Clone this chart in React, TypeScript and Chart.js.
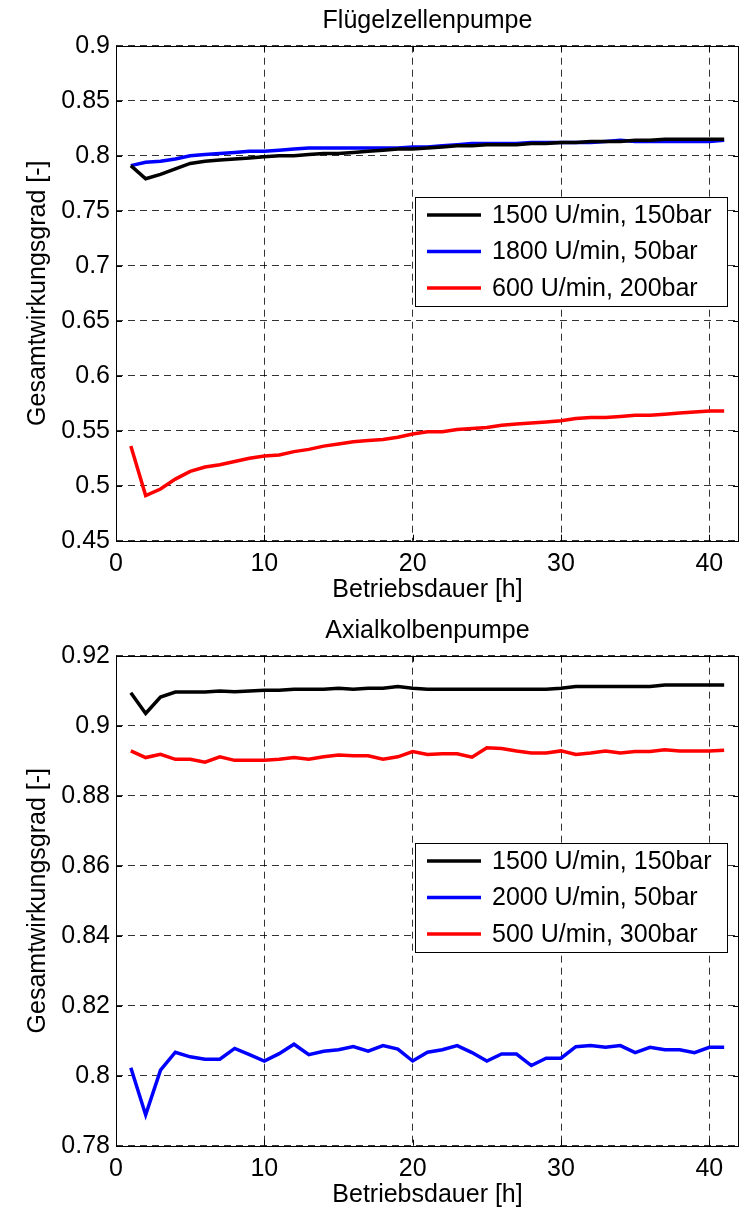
import React, { useEffect, useRef } from "react";
import { Chart, registerables } from "chart.js";

Chart.register(...registerables);

const hours = [1, 2, 3, 4, 5, 6, 7, 8, 9, 10, 11, 12, 13, 14, 15, 16, 17, 18, 19, 20, 21, 22, 23, 24, 25, 26, 27, 28, 29, 30, 31, 32, 33, 34, 35, 36, 37, 38, 39, 40, 41];

// Flügelzellenpumpe
const fzLabels = ["1500 U/min, 150bar", "1800 U/min, 50bar", "600 U/min, 200bar"];
const fz1500 = [0.791, 0.779, 0.783, 0.788, 0.793, 0.795, 0.796, 0.797, 0.798, 0.799, 0.8, 0.8, 0.801, 0.802, 0.802, 0.803, 0.804, 0.805, 0.806, 0.806, 0.807, 0.808, 0.809, 0.809, 0.81, 0.81, 0.81, 0.811, 0.811, 0.812, 0.812, 0.813, 0.813, 0.813, 0.814, 0.814, 0.815, 0.815, 0.815, 0.815, 0.815];
const fz1800 = [0.791, 0.794, 0.795, 0.797, 0.8, 0.801, 0.802, 0.803, 0.804, 0.804, 0.805, 0.806, 0.807, 0.807, 0.807, 0.807, 0.807, 0.807, 0.807, 0.808, 0.808, 0.809, 0.81, 0.811, 0.811, 0.811, 0.811, 0.812, 0.812, 0.812, 0.812, 0.812, 0.813, 0.814, 0.813, 0.813, 0.813, 0.813, 0.813, 0.813, 0.814];
const fz600 = [0.536, 0.491, 0.497, 0.506, 0.513, 0.517, 0.519, 0.522, 0.525, 0.527, 0.528, 0.531, 0.533, 0.536, 0.538, 0.54, 0.541, 0.542, 0.544, 0.547, 0.549, 0.549, 0.551, 0.552, 0.553, 0.555, 0.556, 0.557, 0.558, 0.559, 0.561, 0.562, 0.562, 0.563, 0.564, 0.564, 0.565, 0.566, 0.567, 0.568, 0.568];

// Axialkolbenpumpe
const akLabels = ["1500 U/min, 150bar", "2000 U/min, 50bar", "500 U/min, 300bar"];
const ak1500 = [0.9094, 0.9035, 0.9082, 0.9096, 0.9096, 0.9096, 0.9099, 0.9097, 0.9099, 0.9101, 0.9101, 0.9104, 0.9104, 0.9104, 0.9107, 0.9104, 0.9107, 0.9107, 0.9112, 0.9107, 0.9104, 0.9104, 0.9104, 0.9104, 0.9104, 0.9104, 0.9104, 0.9104, 0.9104, 0.9107, 0.9112, 0.9112, 0.9112, 0.9112, 0.9112, 0.9112, 0.9116, 0.9116, 0.9116, 0.9116, 0.9116];
const ak2000 = [0.8023, 0.7888, 0.8016, 0.8067, 0.8054, 0.8047, 0.8047, 0.8078, 0.806, 0.8042, 0.8063, 0.809, 0.806, 0.807, 0.8074, 0.8083, 0.807, 0.8086, 0.8076, 0.8042, 0.8067, 0.8074, 0.8086, 0.8066, 0.8042, 0.8062, 0.8062, 0.8029, 0.805, 0.805, 0.8083, 0.8086, 0.8081, 0.8086, 0.8066, 0.8081, 0.8074, 0.8074, 0.8066, 0.8081, 0.8081];
const ak500 = [0.8928, 0.8909, 0.8918, 0.8904, 0.8904, 0.8896, 0.8911, 0.8901, 0.8901, 0.8901, 0.8904, 0.8909, 0.8904, 0.8911, 0.8916, 0.8914, 0.8914, 0.8904, 0.8911, 0.8926, 0.8918, 0.892, 0.892, 0.891, 0.8937, 0.8935, 0.8928, 0.8922, 0.8922, 0.8928, 0.8918, 0.8922, 0.8928, 0.8922, 0.8926, 0.8926, 0.8931, 0.8928, 0.8928, 0.8928, 0.893];

const seriesColors = ["#000000", "#0000ff", "#ff0000"];
const xTicks = [0, 10, 20, 30, 40];
const xTitle = "Betriebsdauer [h]";
const yTitle = "Gesamtwirkungsgrad [-]";

const FONT = "'Liberation Sans', Arial, Helvetica, sans-serif";
const FS = 25;

const decorPlugin = {
  id: "decor",
  afterDraw(chart: any) {
    const o = chart.options.plugins.decor;
    const ctx = chart.ctx;
    const a = chart.chartArea;
    ctx.save();
    ctx.strokeStyle = "#000";
    ctx.lineWidth = 1;
    ctx.setLineDash([]);
    ctx.strokeRect(Math.round(a.left) + 0.5, Math.round(a.top) + 0.5, Math.round(a.right - a.left) - 1, Math.round(a.bottom - a.top));
    const xs = chart.scales.x;
    const ys = chart.scales.y;
    ctx.beginPath();
    xs.ticks.forEach((t: any) => {
      const px = Math.round(xs.getPixelForValue(t.value)) + 0.5;
      ctx.moveTo(px, a.top);
      ctx.lineTo(px, a.top + 6);
      ctx.moveTo(px, a.bottom);
      ctx.lineTo(px, a.bottom - 6);
    });
    ys.ticks.forEach((t: any) => {
      const py = Math.round(ys.getPixelForValue(t.value)) + 0.5;
      ctx.moveTo(a.left, py);
      ctx.lineTo(a.left + 6, py);
      ctx.moveTo(a.right, py);
      ctx.lineTo(a.right - 6, py);
    });
    ctx.stroke();

    ctx.fillStyle = "#000";
    ctx.font = `${FS}px ${FONT}`;
    ctx.textAlign = "center";
    ctx.textBaseline = "middle";
    const cx = (a.left + a.right) / 2;
    ctx.fillText(o.title, cx, o.titleY);
    ctx.fillText(xTitle, cx, o.xTitleY);
    ctx.save();
    ctx.translate(o.yTitleX, (a.top + a.bottom) / 2);
    ctx.rotate(-Math.PI / 2);
    ctx.fillText(yTitle, 0, 0);
    ctx.restore();

    const lg = o.legend;
    ctx.fillStyle = "#fff";
    ctx.fillRect(lg.x, lg.y, lg.w, lg.h);
    ctx.strokeStyle = "#000";
    ctx.lineWidth = 1;
    ctx.strokeRect(lg.x + 0.5, lg.y + 0.5, lg.w, lg.h);
    ctx.textAlign = "left";
    chart.data.datasets.forEach((ds: any, i: number) => {
      const y = lg.y + lg.first + i * lg.step;
      ctx.strokeStyle = ds.borderColor;
      ctx.lineWidth = 3.5;
      ctx.beginPath();
      ctx.moveTo(lg.x + 12, y);
      ctx.lineTo(lg.x + 66, y);
      ctx.stroke();
      ctx.fillStyle = "#000";
      ctx.fillText(ds.label, lg.x + 77, y + 1);
    });
    ctx.restore();
  },
};

function fmt(v: number) {
  return String(Number(v.toFixed(2)));
}

function PumpChart(props: { top: number; title: string; labels: string[]; series: number[][]; yMin: number; yMax: number; yStep: number; padTop: number; legendY: number }) {
  const ref = useRef<HTMLCanvasElement | null>(null);
  useEffect(() => {
    if (!ref.current) return;
    const chart = new Chart(ref.current, {
      type: "line",
      data: {
        datasets: props.series.map((s, i) => ({
          label: props.labels[i],
          data: hours.map((h, j) => ({ x: h, y: s[j] })),
          borderColor: seriesColors[i],
          backgroundColor: seriesColors[i],
          borderWidth: 3.5,
          pointRadius: 0,
          tension: 0,
          fill: false,
        })),
      },
      options: {
        animation: false,
        responsive: false,
        maintainAspectRatio: false,
        layout: { padding: { top: props.padTop, right: 1, left: 0, bottom: 0 } },
        plugins: {
          legend: { display: false },
          title: { display: false },
          tooltip: { enabled: false },
          decor: {
            title: props.title,
            titleY: props.padTop - 25,
            xTitleY: 590,
            yTitleX: 38,
            legend: { x: 415, y: props.legendY, w: 312, h: 109, first: 18, step: 36.5 },
          },
        } as any,
        scales: {
          x: {
            type: "linear",
            min: 0,
            max: 42,
            afterBuildTicks: (s: any) => {
              s.ticks = xTicks.map((v) => ({ value: v }));
            },
            afterFit: (s: any) => {
              s.height = 605 - 540.7;
            },
            grid: { color: "rgba(0,0,0,0.8)", lineWidth: 1, drawTicks: false },
            border: { display: false, dash: [7, 5] },
            ticks: { color: "#000", font: { family: FONT, size: FS }, padding: 8, maxRotation: 0, callback: (v: any) => String(v) },
          },
          y: {
            type: "linear",
            min: props.yMin,
            max: props.yMax,
            afterFit: (s: any) => {
              s.width = 116;
            },
            grid: { color: "rgba(0,0,0,0.8)", lineWidth: 1, drawTicks: false },
            border: { display: false, dash: [7, 5] },
            ticks: { color: "#000", stepSize: props.yStep, font: { family: FONT, size: FS }, padding: 6, callback: (v: any) => fmt(Number(v)) },
          },
        },
      },
      plugins: [decorPlugin],
    });
    return () => chart.destroy();
  }, []);
  return (
    <canvas ref={ref} width={740} height={605} style={{ position: "absolute", left: 0, top: props.top, width: 740, height: 605, display: "block" }} />
  );
}

export default function App() {
  return (
    <div style={{ position: "absolute", left: 0, top: 0, width: 740, height: 1211, background: "#fff", overflow: "hidden" }}>
      <PumpChart top={0} title="Flügelzellenpumpe" labels={fzLabels} series={[fz1500, fz1800, fz600]} yMin={0.45} yMax={0.9} yStep={0.05} padTop={45.7} legendY={197} />
      <PumpChart top={605} title="Axialkolbenpumpe" labels={akLabels} series={[ak1500, ak2000, ak500]} yMin={0.78} yMax={0.92} yStep={0.02} padTop={50.7} legendY={238} />
    </div>
  );
}
